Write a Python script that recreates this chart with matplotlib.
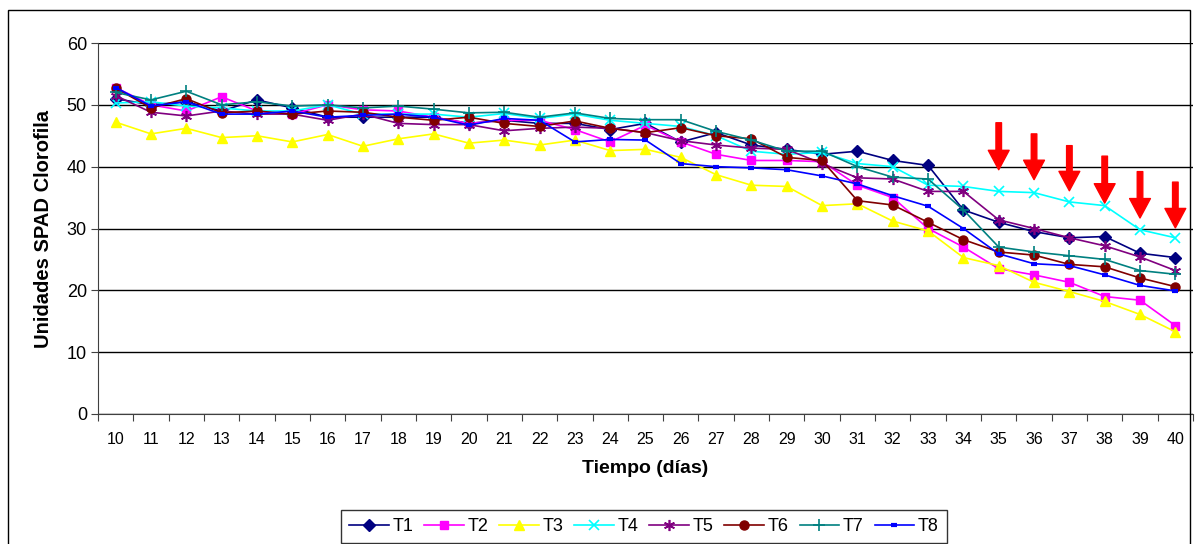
#!/usr/bin/env python3
"""SPAD chlorophyll units over time for eight treatments."""

import matplotlib
matplotlib.use('Agg')
from matplotlib import pyplot as plt
from matplotlib.patches import Rectangle
import numpy as np

plt.rcParams['font.family'] = ['Liberation Sans', 'DejaVu Sans']

DAYS = list(range(10, 41))

T1 = [51.0, 50.0, 50.5, 49.0, 50.8, 49.5, 48.0, 48.0, 48.0, 48.0, 47.0, 47.5,
      47.0, 47.0, 46.0, 47.0, 44.0, 45.5, 43.5, 42.8, 42.0, 42.5, 41.0, 40.2,
      33.0, 31.0, 29.5, 28.5, 28.7, 26.0, 25.3]
T2 = [52.8, 50.0, 49.0, 51.3, 49.0, 48.5, 50.0, 49.2, 49.0, 48.0, 47.0, 47.5,
      47.5, 46.0, 44.0, 46.7, 44.0, 42.0, 41.0, 41.0, 40.8, 37.0, 35.0, 30.0,
      27.0, 23.5, 22.5, 21.3, 19.0, 18.4, 14.3]
T3 = [47.2, 45.3, 46.2, 44.7, 45.0, 44.0, 45.2, 43.3, 44.5, 45.3, 43.8, 44.3,
      43.5, 44.3, 42.6, 42.8, 41.5, 38.7, 37.0, 36.8, 33.7, 34.0, 31.2, 29.6,
      25.3, 24.0, 21.3, 19.8, 18.2, 16.1, 13.3]
T4 = [50.3, 50.5, 49.8, 49.5, 49.0, 49.0, 50.0, 48.5, 48.5, 48.5, 48.0, 48.6,
      47.8, 48.5, 47.5, 47.0, 46.5, 45.0, 42.5, 42.0, 42.3, 40.5, 40.0, 37.0,
      36.8, 36.0, 35.8, 34.3, 33.7, 29.8, 28.5]
T5 = [51.5, 48.8, 48.2, 49.0, 48.5, 48.5, 47.5, 48.5, 47.0, 46.8, 46.8, 45.8,
      46.2, 46.4, 46.2, 45.5, 44.2, 43.5, 43.0, 42.8, 40.5, 38.2, 38.0, 36.0,
      36.0, 31.4, 30.0, 28.5, 27.2, 25.4, 23.2]
T6 = [52.7, 49.5, 51.0, 48.7, 49.0, 48.5, 49.0, 48.8, 48.0, 47.5, 48.0, 47.0,
      46.5, 47.4, 46.2, 45.5, 46.3, 45.0, 44.5, 41.5, 41.0, 34.5, 33.8, 31.0,
      28.2, 26.2, 25.7, 24.2, 23.8, 22.0, 20.6]
T7 = [52.0, 50.8, 52.2, 50.0, 50.5, 49.8, 50.0, 49.5, 49.8, 49.3, 48.7, 48.8,
      48.0, 48.7, 47.8, 47.6, 47.6, 45.7, 44.3, 42.5, 42.5, 40.0, 38.3, 38.0,
      33.0, 27.0, 26.2, 25.6, 25.0, 23.2, 22.6]
T8 = [52.8, 49.8, 50.5, 48.5, 48.5, 49.0, 48.0, 48.3, 48.5, 48.0, 46.7, 47.8,
      47.5, 44.0, 44.4, 44.3, 40.5, 40.0, 39.8, 39.5, 38.5, 37.2, 35.3, 33.6,
      30.0, 25.9, 24.3, 24.0, 22.5, 20.8, 19.9]

# red arrows over the last days (start and tip, in SPAD units)
ARROW_DAYS = [35, 36, 37, 38, 39, 40]
ARROW_TOP = [47.1, 45.3, 43.4, 41.7, 39.2, 37.5]
ARROW_TIP = [39.5, 37.9, 36.1, 34.1, 31.7, 30.1]

SERIES = [
    ('T1', T1, '#000080', dict(marker='D', ms=6)),
    ('T2', T2, '#FF00FF', dict(marker='s', ms=6)),
    ('T3', T3, '#FFFF00', dict(marker='^', ms=7)),
    ('T4', T4, '#00FFFF', dict(marker='x', ms=7, mew=1.2)),
    ('T5', T5, '#800080', dict(marker=(6, 2, 0), ms=8, mew=1.2)),
    ('T6', T6, '#800000', dict(marker='o', ms=6.5)),
    ('T7', T7, '#008080', dict(marker='+', ms=8, mew=1.2)),
    ('T8', T8, '#0000FF', dict(marker='_', ms=5, mew=3)),
]


def main():
    fig = plt.figure(figsize=(11.97, 5.44), dpi=100)
    fig.patches.append(Rectangle((8 / 1197, -0.1), (1190 - 8) / 1197, 1.1 - 10 / 544,
                                 transform=fig.transFigure, fill=False,
                                 edgecolor='black', linewidth=1))
    ax = fig.add_axes([98 / 1197, 1 - 414 / 544, (1193 - 98) / 1197, 371 / 544])

    x = np.arange(len(DAYS))
    for name, vals, color, style in SERIES:
        ax.plot(x, vals, color=color, lw=1.2, label=name,
                markerfacecolor=color, markeredgecolor=color, **style)

    for d, top, tip in zip(ARROW_DAYS, ARROW_TOP, ARROW_TIP):
        i = DAYS.index(d)
        ax.annotate('', xy=(i, tip), xytext=(i, top),
                    arrowprops=dict(arrowstyle='simple,head_length=0.7,head_width=0.75,tail_width=0.2',
                                    color='red', shrinkA=0, shrinkB=0,
                                    mutation_scale=20))

    ax.set_ylim(0, 60)
    ax.set_yticks(range(0, 61, 10))
    ax.set_xlim(-0.5, len(DAYS) - 0.5)
    ax.set_xticks(np.arange(-0.5, len(DAYS), 1.0))
    ax.set_xticklabels([])
    ax.set_xticks(x, minor=True)
    ax.set_xticklabels([str(d) for d in DAYS], minor=True)
    ax.tick_params(axis='x', which='minor', length=0, pad=13, labelsize=11.5)
    ax.tick_params(axis='x', which='major', length=5, direction='out', color='#404040')
    ax.tick_params(axis='y', length=5, direction='out', labelsize=13, color='#404040', pad=3)
    ax.yaxis.grid(True, color='black', linewidth=1)
    ax.set_axisbelow(True)
    for side in ['top', 'right']:
        ax.spines[side].set_visible(False)
    for side in ['left', 'bottom']:
        ax.spines[side].set_color('#404040')

    ax.set_ylabel('Unidades SPAD Clorofila', fontsize=14.5, fontweight='bold', labelpad=10)
    ax.set_xlabel('Tiempo (días)', fontsize=14, fontweight='bold', labelpad=9)

    leg = fig.legend(loc='upper center', bbox_to_anchor=(644 / 1197, 1 - 501 / 544),
                     ncol=8, fontsize=13, frameon=True, fancybox=False,
                     edgecolor='black', handlelength=2.2, handletextpad=0.2,
                     columnspacing=0.6, borderpad=0.45)
    leg.get_frame().set_linewidth(1)

    fig.savefig('out.png', dpi=100)


if __name__ == '__main__':
    main()
